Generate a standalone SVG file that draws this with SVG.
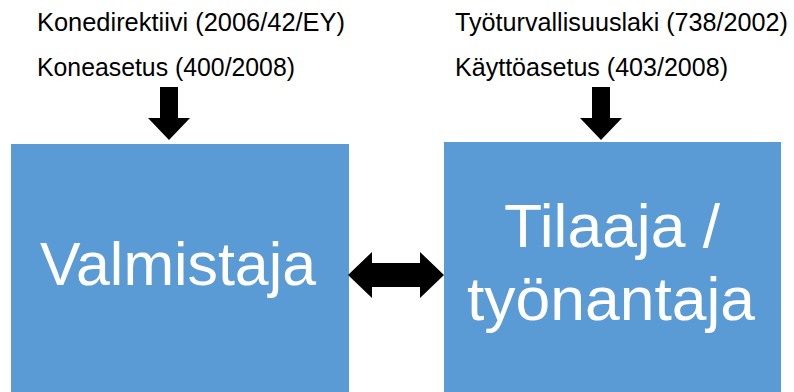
<svg xmlns="http://www.w3.org/2000/svg" width="794" height="392" viewBox="0 0 794 392">
<style>
.lbl{font-family:"Liberation Sans",Arial,sans-serif;font-size:25px;fill:#000}
.box{fill:#5B9BD5}
.big{font-family:"Liberation Sans",Arial,sans-serif;font-size:61px;fill:#fff}
.arr{fill:#000}
</style>
<rect width="794" height="392" fill="#fff"/>
<g id="labels-left">
<text class="lbl" x="37" y="31" textLength="308" lengthAdjust="spacingAndGlyphs">Konedirektiivi (2006/42/EY)</text>
<text class="lbl" x="37" y="76" textLength="258" lengthAdjust="spacingAndGlyphs">Koneasetus (400/2008)</text>
</g>
<g id="labels-right">
<text class="lbl" x="455" y="31" textLength="333" lengthAdjust="spacingAndGlyphs">Työturvallisuuslaki (738/2002)</text>
<text class="lbl" x="455" y="76" textLength="273" lengthAdjust="spacingAndGlyphs">Käyttöasetus (403/2008)</text>
</g>
<g id="valmistaja">
<rect class="box" x="11" y="144" width="338" height="248"/>
<text class="big" x="40" y="285" textLength="276" lengthAdjust="spacingAndGlyphs">Valmistaja</text>
</g>
<g id="tilaaja">
<rect class="box" x="444" y="142" width="337" height="250"/>
<text class="big" x="504" y="247" textLength="216" lengthAdjust="spacingAndGlyphs">Tilaaja /</text>
<text class="big" x="467" y="320" textLength="288" lengthAdjust="spacingAndGlyphs">työnantaja</text>
</g>
<g id="connectors">
<polygon class="arr" points="160,87 178,87 178,118 190,118 169,140 148,118 160,118"/>
<polygon class="arr" points="592,87 610,87 610,118 622,118 601,140 580,118 592,118"/>
<polygon class="arr" points="348,275 372,252 372,263 420,263 420,252 444,275 420,298 420,287 372,287 372,298"/>
</g>
</svg>
